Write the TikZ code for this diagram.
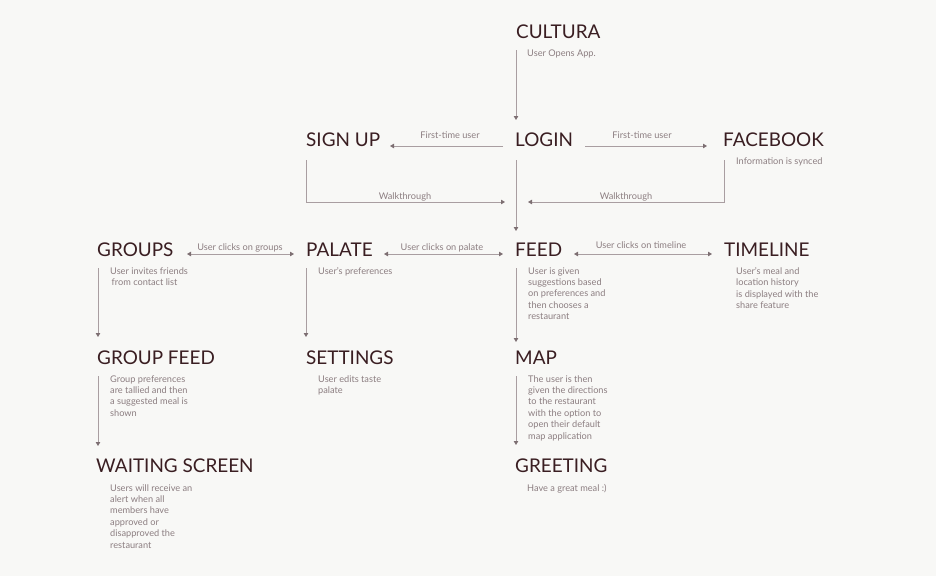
\documentclass[tikz,border=0pt]{standalone}
\usepackage{fontspec}
\setmainfont{Lato}
\usetikzlibrary{arrows.meta}
\definecolor{bgc}{HTML}{F8F8F6}
\definecolor{titc}{HTML}{3A1E22}
\definecolor{descc}{HTML}{8C7E81}
\definecolor{linec}{HTML}{A99EA1}
\definecolor{tipc}{HTML}{7D6F72}
\tikzset{
  ttl/.style={anchor=base west, inner sep=0pt, text=titc, font=\fontsize{18.9}{22}\selectfont},
  dsc/.style={anchor=north west, inner sep=0pt, text=descc, align=left, font=\fontsize{9.2}{11.4}\selectfont},
  lbl/.style={anchor=base, inner sep=0pt, text=descc, font=\fontsize{9.2}{11}\selectfont},
  conn/.style={draw=linec, line width=0.9pt, -{Triangle[width=4.5pt,length=4pt,color=tipc]}},
  dconn/.style={draw=linec, line width=0.9pt, {Triangle[width=4.5pt,length=4pt,color=tipc]}-{Triangle[width=4.5pt,length=4pt,color=tipc]}},
  plain/.style={draw=linec, line width=0.9pt}
}
\begin{document}
\begin{tikzpicture}[x=1pt,y=-1pt]
\fill[bgc] (0,0) rectangle (936,576);
\useasboundingbox (0,0) rectangle (936,576);
% titles
\node[ttl] (cultura) at (516,38) {CULTURA};
\node[ttl] (signup) at (306,146) {SIGN UP};
\node[ttl] (login) at (515,146) {LOGIN};
\node[ttl] (facebook) at (723,146) {FACEBOOK};
\node[ttl] (groups) at (97,256) {GROUPS};
\node[ttl] (palate) at (306,256) {PALATE};
\node[ttl] (feed) at (515,256) {FEED};
\node[ttl] (timeline) at (724,256) {TIMELINE};
\node[ttl] (groupfeed) at (97,364) {GROUP FEED};
\node[ttl] (settings) at (306,364) {SETTINGS};
\node[ttl] (map) at (515,364) {MAP};
\node[ttl] (waiting) at (96,472) {WAITING SCREEN};
\node[ttl] (greeting) at (515,472) {GREETING};
% descriptions (top of first line = baseline - 6.8)
\node[dsc] (dcultura) at (527,49.2) {User Opens App.};
\node[dsc] (dfacebook) at (736,157.2) {Information is synced};
\node[dsc] (dgroups) at (110,267.2) {User invites friends\\\,from contact list};
\node[dsc] (dpalate) at (318,267.2) {User's preferences};
\node[dsc] (dfeed) at (528,267.2) {User is given\\suggestions based\\on preferences and\\then chooses a\\restaurant};
\node[dsc] (dtimeline) at (736,267.2) {User's meal and\\location history\\is displayed with the\\share feature};
\node[dsc] (dgroupfeed) at (110,375.2) {Group preferences\\are tallied and then\\a suggested meal is\\shown};
\node[dsc] (dsettings) at (318,375.2) {User edits taste\\palate};
\node[dsc] (dmap) at (528,375.2) {The user is then\\given the directions\\to the restaurant\\with the option to\\open their default\\map application};
\node[dsc] (dwaiting) at (110,484.2) {Users will receive an\\alert when all\\members have\\approved or\\disapproved the\\restaurant};
\node[dsc] (dgreeting) at (527,484.2) {Have a great meal :)};
% connector end points
\coordinate (c1a) at (516,50);   \coordinate (c1b) at (516,120);
\coordinate (ls) at (503,146);   \coordinate (sl) at (390,146);
\coordinate (lf) at (585,146);   \coordinate (fl) at (707,146);
\coordinate (s1) at (306,160);   \coordinate (s2) at (306,202);  \coordinate (s3) at (505,202);
\coordinate (f1) at (724,160);   \coordinate (f2) at (724,202);  \coordinate (f3) at (528,202);
\coordinate (l1) at (516,160);   \coordinate (l2) at (516,231);
\coordinate (gp1) at (187,254);  \coordinate (gp2) at (294,254);
\coordinate (pf1) at (384,254);  \coordinate (pf2) at (503,254);
\coordinate (ft1) at (574,254);  \coordinate (ft2) at (712,254);
\coordinate (g1) at (98,268);    \coordinate (g2) at (98,337);
\coordinate (p1) at (306,268);   \coordinate (p2) at (306,337);
\coordinate (e1) at (516,268);   \coordinate (e2) at (516,342);
\coordinate (gf1) at (98,376);   \coordinate (gf2) at (98,446);
\coordinate (m1) at (516,376);   \coordinate (m2) at (516,445);
% connectors
\draw[conn] (c1a) -- (c1b);
\draw[conn] (ls) -- (sl);
\draw[conn] (lf) -- (fl);
\draw[conn] (s1) -- (s2) -- (s3);
\draw[conn] (f1) -- (f2) -- (f3);
\draw[conn] (l1) -- (l2);
\draw[dconn] (gp1) -- (gp2);
\draw[dconn] (pf1) -- (pf2);
\draw[dconn] (ft1) -- (ft2);
\draw[conn] (g1) -- (g2);
\draw[conn] (p1) -- (p2);
\draw[conn] (e1) -- (e2);
\draw[conn] (gf1) -- (gf2);
\draw[conn] (m1) -- (m2);
% labels
\node[lbl] (lab1) at (450,138) {First-time user};
\node[lbl] (lab2) at (642,138) {First-time user};
\node[lbl] (lab3) at (405,199) {Walkthrough};
\node[lbl] (lab4) at (626,199) {Walkthrough};
\node[lbl] (lab5) at (240,250) {User clicks on groups};
\node[lbl] (lab6) at (442,250) {User clicks on palate};
\node[lbl] (lab7) at (641,248) {User clicks on timeline};
\end{tikzpicture}
\end{document}
